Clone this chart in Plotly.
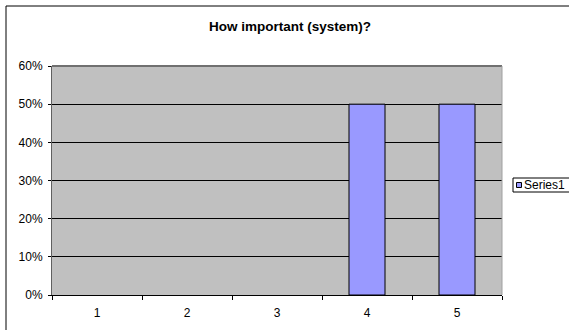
import plotly.graph_objects as go

categories = ["1", "2", "3", "4", "5"]
series1 = [0, 0, 0, 0.5, 0.5]
y_ticks = [0, 0.1, 0.2, 0.3, 0.4, 0.5, 0.6]
series_name = "Series1"

W, H = 569, 330
L, R, T, B = 52, 502, 66, 295

fig = go.Figure()
fig.add_trace(go.Bar(
    x=categories, y=series1, name=series_name,
    marker=dict(color="#9999FF",
                line=dict(color="black", width=[1 if v > 0 else 0 for v in series1])),
    width=0.4, showlegend=False,
))

pw, ph = R - L, B - T
def px_x(x):
    return (x - L) / pw
def px_y(y):
    return (B - y) / ph

fig.update_layout(
    width=W, height=H,
    margin=dict(l=L, r=W - R, t=T, b=H - B, autoexpand=False),
    paper_bgcolor="white",
    plot_bgcolor="#C0C0C0",
    font=dict(family="Liberation Sans, Arial, sans-serif", size=12, color="black"),
    title=dict(text="<b>How important (system)?</b>", x=290 / W, xanchor="center",
               y=1 - 26 / H, yanchor="middle", yref="container",
               font=dict(size=13.5, color="black")),
    showlegend=False,
    xaxis=dict(type="category", tickson="boundaries", ticks="outside", ticklen=4,
               tickcolor="black", showgrid=False, showline=True, linecolor="black",
               linewidth=1, fixedrange=True, ticklabelstandoff=7),
    yaxis=dict(range=[0, 0.6], tickvals=y_ticks, tickformat=".0%", ticks="outside",
               ticklen=3, tickcolor="black", showgrid=True, gridcolor="black",
               gridwidth=1, showline=True, linecolor="#606060", zeroline=False,
               fixedrange=True, ticklabelstandoff=3),
    shapes=[
        dict(type="line", xref="paper", yref="paper", x0=0, x1=1, y0=1, y1=1,
             line=dict(color="#707070", width=2), layer="above"),
        dict(type="line", xref="paper", yref="paper", x0=1, x1=1, y0=0, y1=1,
             line=dict(color="#A0A0A0", width=1), layer="above"),
        dict(type="rect", xref="paper", yref="paper",
             x0=px_x(6), x1=px_x(580), y0=px_y(340), y1=px_y(6),
             line=dict(color="black", width=1)),
        # legend box
        dict(type="rect", xref="paper", yref="paper",
             x0=px_x(513), x1=px_x(580), y0=px_y(192), y1=px_y(178),
             line=dict(color="black", width=1), fillcolor="white"),
        dict(type="rect", xref="paper", yref="paper",
             x0=px_x(516.5), x1=px_x(521.5), y0=px_y(187.5), y1=px_y(182.5),
             line=dict(color="black", width=1), fillcolor="#9999FF"),
    ],
    annotations=[
        dict(text=series_name, xref="paper", yref="paper", x=px_x(522), y=px_y(185),
             xanchor="left", yanchor="middle", showarrow=False,
             font=dict(size=12, color="black")),
    ],
)

fig.write_html("out.html")
